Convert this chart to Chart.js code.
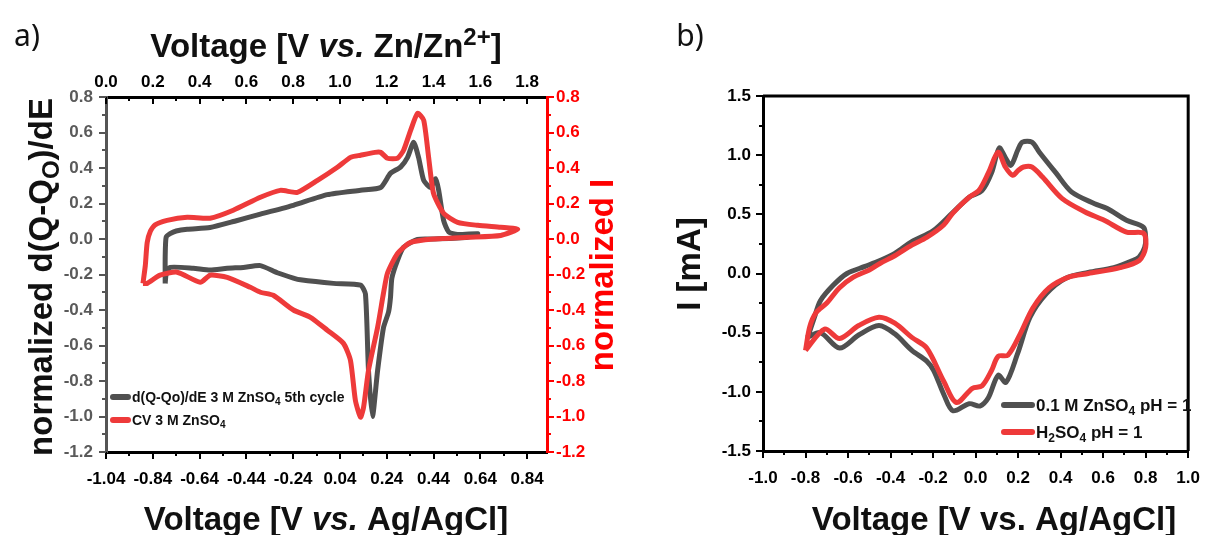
<!DOCTYPE html>
<html lang="en">
<head>
    <meta charset="UTF-8">
    <title>CV d(Q-Qo)/dE</title>
    <script src="https://cdn.jsdelivr.net/npm/chart.js@4.4.1/dist/chart.umd.min.js"></script>
    <style>
        body { margin: 0; background: #fff; }
        #wrap { position: relative; width: 1217px; height: 535px; }
        canvas { position: absolute; top: 0; }
    </style>
</head>
<body>
<div id="wrap">
    <canvas id="chartA" width="650" height="535" style="left:0"></canvas>
    <canvas id="chartB" width="597" height="535" style="left:620px"></canvas>
</div>

<script>
    const FONT = '"Liberation Sans", Arial, sans-serif';
    const GREY = 'rgb(80,80,80)';
    const RED = 'rgb(238,58,58)';

    // ---- panel a: voltage on the Zn/Zn2+ scale (top axis) ----
    const aTopTicks = [0, 0.2, 0.4, 0.6, 0.8, 1.0, 1.2, 1.4, 1.6, 1.8];
    const aTopLabels = ['0.0', '0.2', '0.4', '0.6', '0.8', '1.0', '1.2', '1.4', '1.6', '1.8'];
    const aBottomLabels = ['-1.04', '-0.84', '-0.64', '-0.44', '-0.24', '0.04', '0.24', '0.44', '0.64', '0.84'];
    const aYTicks = [-1.2, -1.0, -0.8, -0.6, -0.4, -0.2, 0, 0.2, 0.4, 0.6, 0.8];
    const aYLabels = ['-1.2', '-1.0', '-0.8', '-0.6', '-0.4', '-0.2', '0.0', '0.2', '0.4', '0.6', '0.8'];

    // d(Q-Qo)/dE 3 M ZnSO4 5th cycle
    const dqdeV = [0.253, 0.253, 0.257, 0.274, 0.300, 0.347, 0.445, 0.550, 0.660, 0.801,
        0.946, 1.088, 1.174, 1.216, 1.259, 1.289, 1.315, 1.336, 1.358, 1.388,
        1.409, 1.422, 1.443, 1.465, 1.503, 1.589, 1.546, 1.400, 1.332, 1.272,
        1.246, 1.222, 1.216, 1.208, 1.186, 1.161, 1.139, 1.122, 1.109, 1.088,
        0.972, 0.831, 0.801, 0.732, 0.660, 0.587, 0.518, 0.445, 0.373, 0.274,
        0.257, 0.253];
    const dqdeY = [-0.25, -0.10, 0.01, 0.03, 0.045, 0.055, 0.065, 0.10, 0.14, 0.19,
        0.25, 0.275, 0.29, 0.37, 0.405, 0.46, 0.545, 0.46, 0.33, 0.29,
        0.34, 0.275, 0.105, 0.04, 0.025, 0.03, 0.01, 0.0, -0.002, -0.047,
        -0.12, -0.22, -0.33, -0.41, -0.50, -0.74, -1.0, -0.74, -0.31, -0.26,
        -0.25, -0.23, -0.22, -0.19, -0.15, -0.16, -0.165, -0.175, -0.165, -0.16,
        -0.20, -0.25];

    // CV 3 M ZnSO4
    const cvV = [0.158, 0.168, 0.176, 0.190, 0.210, 0.261, 0.347, 0.445, 0.544, 0.660,
        0.745, 0.818, 0.904, 0.989, 1.045, 1.088, 1.150, 1.174, 1.203, 1.246,
        1.272, 1.302, 1.332, 1.358, 1.379, 1.400, 1.443, 1.503, 1.589, 1.687,
        1.760, 1.687, 1.546, 1.400, 1.302, 1.246, 1.203, 1.186, 1.161, 1.122,
        1.101, 1.088, 1.066, 1.045, 1.015, 0.946, 0.874, 0.801, 0.715, 0.660,
        0.617, 0.518, 0.445, 0.403, 0.304, 0.231, 0.176, 0.158];
    const cvY = [-0.25, -0.15, -0.02, 0.045, 0.08, 0.105, 0.122, 0.117, 0.162, 0.235,
        0.274, 0.263, 0.33, 0.404, 0.46, 0.472, 0.488, 0.488, 0.455, 0.455,
        0.50, 0.612, 0.708, 0.669, 0.46, 0.257, 0.145, 0.094, 0.077, 0.066,
        0.055, 0.02, 0.01, 0.0, -0.019, -0.081, -0.193, -0.306, -0.497, -0.74,
        -0.948, -1.004, -0.909, -0.684, -0.588, -0.514, -0.441, -0.40, -0.317, -0.30,
        -0.272, -0.216, -0.204, -0.244, -0.187, -0.204, -0.25, -0.25];

    // ---- panel b ----
    const bXTicks = [-1.0, -0.8, -0.6, -0.4, -0.2, 0, 0.2, 0.4, 0.6, 0.8, 1.0];
    const bXLabels = ['-1.0', '-0.8', '-0.6', '-0.4', '-0.2', '0.0', '0.2', '0.4', '0.6', '0.8', '1.0'];
    const bYTicks = [-1.5, -1.0, -0.5, 0, 0.5, 1.0, 1.5];
    const bYLabels = ['-1.5', '-1.0', '-0.5', '0.0', '0.5', '1.0', '1.5'];

    // 0.1 M ZnSO4 pH = 1
    const znV = [-0.79, -0.76, -0.73, -0.67, -0.605, -0.52, -0.45, -0.38, -0.30, -0.20,
        -0.11, -0.03, 0.03, 0.075, 0.111, 0.14, 0.166, 0.20, 0.22, 0.265,
        0.30, 0.378, 0.451, 0.56, 0.619, 0.71, 0.79, 0.80, 0.795, 0.77,
        0.74, 0.65, 0.53, 0.424, 0.333, 0.256, 0.197, 0.143, 0.106, 0.06,
        0.02, -0.03, -0.107, -0.15, -0.197, -0.23, -0.30, -0.38, -0.455, -0.55,
        -0.64, -0.73, -0.79];
    const znI = [-0.54, -0.38, -0.23, -0.10, 0.0, 0.06, 0.11, 0.17, 0.27, 0.36,
        0.51, 0.645, 0.70, 0.85, 1.06, 0.98, 0.915, 1.05, 1.11, 1.11,
        1.025, 0.85, 0.69, 0.59, 0.55, 0.45, 0.39, 0.30, 0.22, 0.14,
        0.11, 0.05, 0.01, -0.04, -0.17, -0.37, -0.68, -0.92, -0.86, -1.05,
        -1.12, -1.10, -1.16, -1.02, -0.82, -0.74, -0.65, -0.51, -0.44, -0.52,
        -0.63, -0.50, -0.54];

    // H2SO4 pH = 1
    const hV = [-0.80, -0.78, -0.75, -0.70, -0.64, -0.575, -0.50, -0.45, -0.38, -0.30,
        -0.23, -0.15, -0.107, -0.03, 0.015, 0.06, 0.106, 0.14, 0.175, 0.20,
        0.225, 0.265, 0.315, 0.406, 0.515, 0.605, 0.71, 0.79, 0.80, 0.77,
        0.68, 0.53, 0.438, 0.347, 0.27, 0.21, 0.152, 0.106, 0.075, 0.03,
        -0.015, -0.09, -0.15, -0.23, -0.30, -0.38, -0.455, -0.55, -0.64, -0.71,
        -0.80];
    const hI = [-0.65, -0.45, -0.33, -0.25, -0.12, -0.03, 0.03, 0.085, 0.15, 0.24,
        0.305, 0.41, 0.51, 0.645, 0.70, 0.85, 1.025, 0.90, 0.83, 0.87,
        0.90, 0.90, 0.815, 0.635, 0.52, 0.45, 0.35, 0.34, 0.22, 0.11,
        0.05, 0.0, -0.03, -0.12, -0.29, -0.51, -0.69, -0.70, -0.82, -0.95,
        -0.97, -1.09, -0.91, -0.63, -0.54, -0.42, -0.37, -0.44, -0.55, -0.47,
        -0.65];

    function pts(xs, ys) {
        return xs.map((x, i) => ({x: x, y: ys[i]}));
    }

    function midpoints(arr) {
        const out = [];
        for (let i = 0; i < arr.length - 1; i++) out.push((arr[i] + arr[i + 1]) / 2);
        return out;
    }

    // draws text pieces with italic / sub / sup parts
    function richText(ctx, parts, x, y, size, color, angle, align) {
        ctx.save();
        ctx.translate(x, y);
        ctx.rotate(angle || 0);
        ctx.fillStyle = color;
        ctx.textBaseline = 'alphabetic';
        ctx.textAlign = 'left';
        const fontFor = p => (p.it ? 'italic ' : '') + (p.normal ? '' : 'bold ') +
            Math.round((p.sub || p.sup) ? size * 0.72 : size) + 'px ' + (p.family || FONT);
        let w = 0;
        parts.forEach(p => { ctx.font = fontFor(p); w += ctx.measureText(p.t).width; });
        let cx = align === 'left' ? 0 : -w / 2;
        const base = size * 0.36;
        parts.forEach(p => {
            ctx.font = fontFor(p);
            const dy = p.sub ? size * 0.22 : (p.sup ? -size * 0.36 : 0);
            ctx.fillText(p.t, cx, base + dy);
            cx += ctx.measureText(p.t).width;
        });
        ctx.restore();
    }

    function legendRow(ctx, x, y, color, lineLen, parts, size) {
        ctx.save();
        ctx.strokeStyle = color;
        ctx.lineWidth = 6;
        ctx.lineCap = 'round';
        ctx.beginPath();
        ctx.moveTo(x, y);
        ctx.lineTo(x + lineLen, y);
        ctx.stroke();
        ctx.restore();
        richText(ctx, parts, x + lineLen + 4, y, size, '#111', 0, 'left');
    }

    // tick marks (major + minor) drawn from the scales
    const tickMarks = {
        id: 'tickMarks',
        afterDatasetsDraw(chart, args, opts) {
            const ctx = chart.ctx;
            (opts.specs || []).forEach(s => {
                const sc = chart.scales[s.id];
                ctx.save();
                ctx.strokeStyle = s.color;
                ctx.lineWidth = 2;
                const draw = (v, len) => {
                    const p = Math.round(sc.getPixelForValue(v));
                    ctx.beginPath();
                    if (sc.isHorizontal()) {
                        const y0 = sc.position === 'bottom' ? sc.top : sc.bottom;
                        const dir = (sc.position === 'bottom' ? 1 : -1) * (s.inward ? -1 : 1);
                        ctx.moveTo(p, y0);
                        ctx.lineTo(p, y0 + dir * len);
                    } else {
                        const x0 = sc.position === 'left' ? sc.right : sc.left;
                        const dir = (sc.position === 'left' ? -1 : 1) * (s.inward ? -1 : 1);
                        ctx.moveTo(x0, p);
                        ctx.lineTo(x0 + dir * len, p);
                    }
                    ctx.stroke();
                };
                s.major.forEach(v => draw(v, 7));
                s.minor.forEach(v => draw(v, 4));
                ctx.restore();
            });
        }
    };

    const tickFont = {family: FONT, size: 17, weight: 'bold'};
    const noGrid = {display: false, drawTicks: false};

    function fixedTicks(values) {
        return scale => { scale.ticks = values.map(v => ({value: v})); };
    }

    // ---------------- chart a ----------------
    const decorA = {
        id: 'decorA',
        afterDraw(chart) {
            const ctx = chart.ctx;
            richText(ctx, [{t: 'a)', normal: true, family: '"Noto Sans", sans-serif'}], 27, 35, 30, '#111');
            richText(ctx, [{t: 'Voltage [V '}, {t: 'vs.', it: true}, {t: ' Zn/Zn'}, {t: '2+', sup: true}, {t: ']'}],
                326, 45, 33, '#111');
            richText(ctx, [{t: 'Voltage [V '}, {t: 'vs.', it: true}, {t: ' Ag/AgCl]'}], 326, 518, 33, '#111');
            richText(ctx, [{t: 'normalized d(Q-Q'}, {t: 'O', sub: true}, {t: ')/dE'}],
                40, 277, 33, '#111', -Math.PI / 2);
            richText(ctx, [{t: 'normalized I'}], 601, 275, 33, '#ff0000', -Math.PI / 2);
            legendRow(ctx, 113, 397, GREY, 15,
                [{t: 'd(Q-Qo)/dE 3 M ZnSO'}, {t: '4', sub: true}, {t: ' 5th cycle'}], 14);
            legendRow(ctx, 113, 420, RED, 15,
                [{t: 'CV 3 M ZnSO'}, {t: '4', sub: true}], 14);
        }
    };

    new Chart(document.getElementById('chartA').getContext('2d'), {
        type: 'scatter',
        data: {
            datasets: [{
                label: 'd(Q-Qo)/dE 3 M ZnSO4 5th cycle',
                data: pts(dqdeV, dqdeY),
                showLine: true,
                borderColor: GREY,
                borderWidth: 5,
                pointRadius: 0,
                tension: 0.2,
                order: 1,
                xAxisID: 'x',
                yAxisID: 'y'
            }, {
                label: 'CV 3 M ZnSO4',
                data: pts(cvV, cvY),
                showLine: true,
                borderColor: RED,
                borderWidth: 5,
                pointRadius: 0,
                tension: 0.2,
                order: 0,
                xAxisID: 'x',
                yAxisID: 'y'
            }]
        },
        options: {
            responsive: false,
            animation: false,
            layout: {padding: 0},
            plugins: {
                legend: {display: false},
                tooltip: {enabled: false},
                tickMarks: {
                    specs: [
                        {id: 'x', major: aTopTicks, minor: midpoints(aTopTicks), color: '#000'},
                        {id: 'x2', major: aTopTicks, minor: midpoints(aTopTicks), color: '#000', inward: true},
                        {id: 'y', major: aYTicks, minor: midpoints(aYTicks), color: '#555'},
                        {id: 'y2', major: aYTicks, minor: midpoints(aYTicks), color: '#ff0000'}
                    ]
                }
            },
            scales: {
                x: {
                    type: 'linear', position: 'bottom', min: 0, max: 1.885,
                    afterBuildTicks: fixedTicks(aTopTicks),
                    afterFit: s => { s.height = 83; },
                    grid: noGrid,
                    border: {color: '#000', width: 3},
                    ticks: {color: '#000', font: tickFont, padding: 17, maxRotation: 0, autoSkip: false,
                        callback: (v, i) => aBottomLabels[i]}
                },
                x2: {
                    type: 'linear', position: 'top', min: 0, max: 1.885,
                    afterBuildTicks: fixedTicks(aTopTicks),
                    afterFit: s => { s.height = 97; },
                    grid: noGrid,
                    border: {color: '#000', width: 3},
                    ticks: {color: '#000', font: tickFont, padding: 4, maxRotation: 0, autoSkip: false,
                        callback: (v, i) => aTopLabels[i]}
                },
                y: {
                    type: 'linear', position: 'left', min: -1.2, max: 0.8,
                    afterBuildTicks: fixedTicks(aYTicks),
                    afterFit: s => { s.width = 106; },
                    grid: noGrid,
                    border: {color: '#555', width: 3},
                    ticks: {color: '#5a5a5a', font: tickFont, padding: 13,
                        callback: (v, i) => aYLabels[i]}
                },
                y2: {
                    type: 'linear', position: 'right', min: -1.2, max: 0.8,
                    afterBuildTicks: fixedTicks(aYTicks),
                    afterFit: s => { s.width = 103; },
                    grid: noGrid,
                    border: {color: '#ff0000', width: 3},
                    ticks: {color: '#ff0000', font: tickFont, padding: 9,
                        callback: (v, i) => aYLabels[i]}
                }
            }
        },
        plugins: [tickMarks, decorA]
    });

    // ---------------- chart b ----------------
    const decorB = {
        id: 'decorB',
        afterDraw(chart) {
            const ctx = chart.ctx;
            const a = chart.chartArea;
            ctx.save();
            ctx.strokeStyle = '#000';
            ctx.lineWidth = 3;
            ctx.beginPath();
            ctx.moveTo(a.left, a.top);
            ctx.lineTo(a.right, a.top);
            ctx.lineTo(a.right, a.bottom);
            ctx.stroke();
            ctx.restore();
            richText(ctx, [{t: 'b)', normal: true, family: '"Noto Sans", sans-serif'}], 70, 35, 30, '#111');
            richText(ctx, [{t: 'I [mA]'}], 68, 264, 33, '#111', -Math.PI / 2);
            richText(ctx, [{t: 'Voltage [V vs. Ag/AgCl]'}], 374, 518, 33, '#111');
            legendRow(ctx, 384, 405, GREY, 28,
                [{t: '0.1 M ZnSO'}, {t: '4', sub: true}, {t: ' pH = 1'}], 17);
            legendRow(ctx, 384, 432, RED, 28,
                [{t: 'H'}, {t: '2', sub: true}, {t: 'SO'}, {t: '4', sub: true}, {t: ' pH = 1'}], 17);
        }
    };

    new Chart(document.getElementById('chartB').getContext('2d'), {
        type: 'scatter',
        data: {
            datasets: [{
                label: '0.1 M ZnSO4 pH = 1',
                data: pts(znV, znI),
                showLine: true,
                borderColor: GREY,
                borderWidth: 5,
                pointRadius: 0,
                tension: 0.3,
                order: 1
            }, {
                label: 'H2SO4 pH = 1',
                data: pts(hV, hI),
                showLine: true,
                borderColor: RED,
                borderWidth: 5,
                pointRadius: 0,
                tension: 0.3,
                order: 0
            }]
        },
        options: {
            responsive: false,
            animation: false,
            layout: {padding: {top: 96, right: 13, left: 0, bottom: 0}},
            plugins: {
                legend: {display: false},
                tooltip: {enabled: false},
                tickMarks: {
                    specs: [
                        {id: 'x', major: bXTicks, minor: midpoints(bXTicks), color: '#000'},
                        {id: 'y', major: bYTicks, minor: midpoints(bYTicks), color: '#000'}
                    ]
                }
            },
            scales: {
                x: {
                    type: 'linear', position: 'bottom', min: -1, max: 1,
                    afterBuildTicks: fixedTicks(bXTicks),
                    afterFit: s => { s.height = 84; },
                    grid: noGrid,
                    border: {color: '#000', width: 3},
                    ticks: {color: '#000', font: tickFont, padding: 17, maxRotation: 0, autoSkip: false,
                        callback: (v, i) => bXLabels[i]}
                },
                y: {
                    type: 'linear', position: 'left', min: -1.5, max: 1.5,
                    afterBuildTicks: fixedTicks(bYTicks),
                    afterFit: s => { s.width = 143; },
                    grid: noGrid,
                    border: {color: '#000', width: 3},
                    ticks: {color: '#000', font: tickFont, padding: 12,
                        callback: (v, i) => bYLabels[i]}
                }
            }
        },
        plugins: [tickMarks, decorB]
    });
</script>
</body>
</html>
